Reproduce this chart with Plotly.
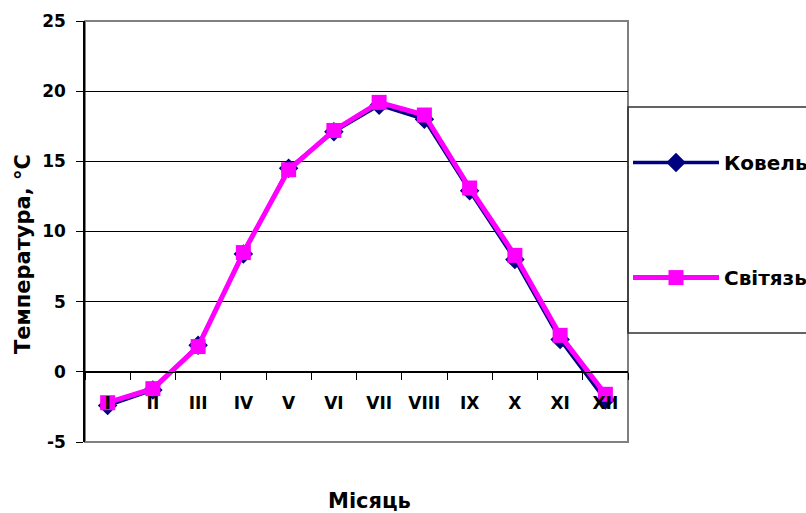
import plotly.graph_objects as go

months = ["I", "II", "III", "IV", "V", "VI", "VII", "VIII", "IX", "X", "XI", "XII"]
kovel = [-2.4, -1.3, 1.9, 8.4, 14.5, 17.1, 19.0, 18.0, 12.9, 8.0, 2.3, -2.0]
svitiaz = [-2.2, -1.2, 1.8, 8.5, 14.4, 17.2, 19.2, 18.3, 13.1, 8.3, 2.6, -1.6]
y_ticks = [-5, 0, 5, 10, 15, 20, 25]

FONT = "DejaVu Sans, Arial, sans-serif"

def b(s):
    return "<b>" + s + "</b>"

fig = go.Figure()
fig.add_trace(go.Scatter(
    x=months, y=kovel, name=b("Ковель"), mode="lines+markers",
    line=dict(color="#000080", width=3.5),
    marker=dict(symbol="diamond", size=15, color="#000080"),
    legendgroup="a",
))
fig.add_trace(go.Scatter(
    x=months, y=svitiaz, name=b("Світязь"), mode="lines+markers",
    line=dict(color="#FF00FF", width=5),
    marker=dict(symbol="square", size=15, color="#FF00FF"),
    legendgroup="b",
))

fig.update_layout(
    width=806, height=513,
    margin=dict(l=85, r=178, t=21, b=71, autoexpand=False),
    paper_bgcolor="white", plot_bgcolor="white",
    font=dict(family=FONT, color="black"),
    showlegend=True,
    legend=dict(
        x=1.0, xanchor="left", y=0.71, yanchor="top",
        font=dict(family=FONT, size=20, color="black"),
        bgcolor="rgba(0,0,0,0)", borderwidth=0,
        itemwidth=86, traceorder="grouped", tracegroupgap=86,
    ),
    xaxis=dict(
        type="category", range=[-0.5, 11.5],
        tickvals=months, ticktext=[b(m) for m in months],
        anchor="free", position=1/6,
        showline=True, linecolor="black", linewidth=1,
        ticks="outside", ticklen=7, tickcolor="black", tickson="boundaries",
        ticklabelstandoff=16,
        showgrid=False, zeroline=False,
        tickfont=dict(family=FONT, size=17, color="black"),
    ),
    yaxis=dict(
        range=[-5, 25], tickvals=y_ticks, ticktext=[b(str(v)) for v in y_ticks],
        showline=True, linecolor="black", linewidth=1.5,
        ticks="outside", ticklen=7, tickcolor="black",
        ticklabelstandoff=7,
        showgrid=True, gridcolor="black", gridwidth=1,
        zeroline=False,
        tickfont=dict(family=FONT, size=17, color="black"),
    ),
    shapes=[
        dict(type="rect", xref="paper", yref="paper", x0=0, x1=1, y0=0, y1=1,
             line=dict(color="#808080", width=2), layer="below"),
        dict(type="rect", xref="paper", yref="paper",
             x0=1.0, x1=1.5, y0=(442 - 333) / 421, y1=(442 - 107) / 421,
             line=dict(color="#303030", width=1.5), layer="above"),
    ],
    annotations=[
        dict(text=b("Температура, °С"), xref="paper", yref="paper",
             x=(23 - 85) / 543, y=(442 - 254) / 421, textangle=-90,
             showarrow=False, xanchor="center", yanchor="middle",
             font=dict(family=FONT, size=21, color="black")),
        dict(text=b("Місяць"), xref="paper", yref="paper",
             x=(369 - 85) / 543, y=(442 - 501) / 421,
             showarrow=False, xanchor="center", yanchor="middle",
             font=dict(family=FONT, size=21, color="black")),
    ],
)

fig.write_html("out.html")
